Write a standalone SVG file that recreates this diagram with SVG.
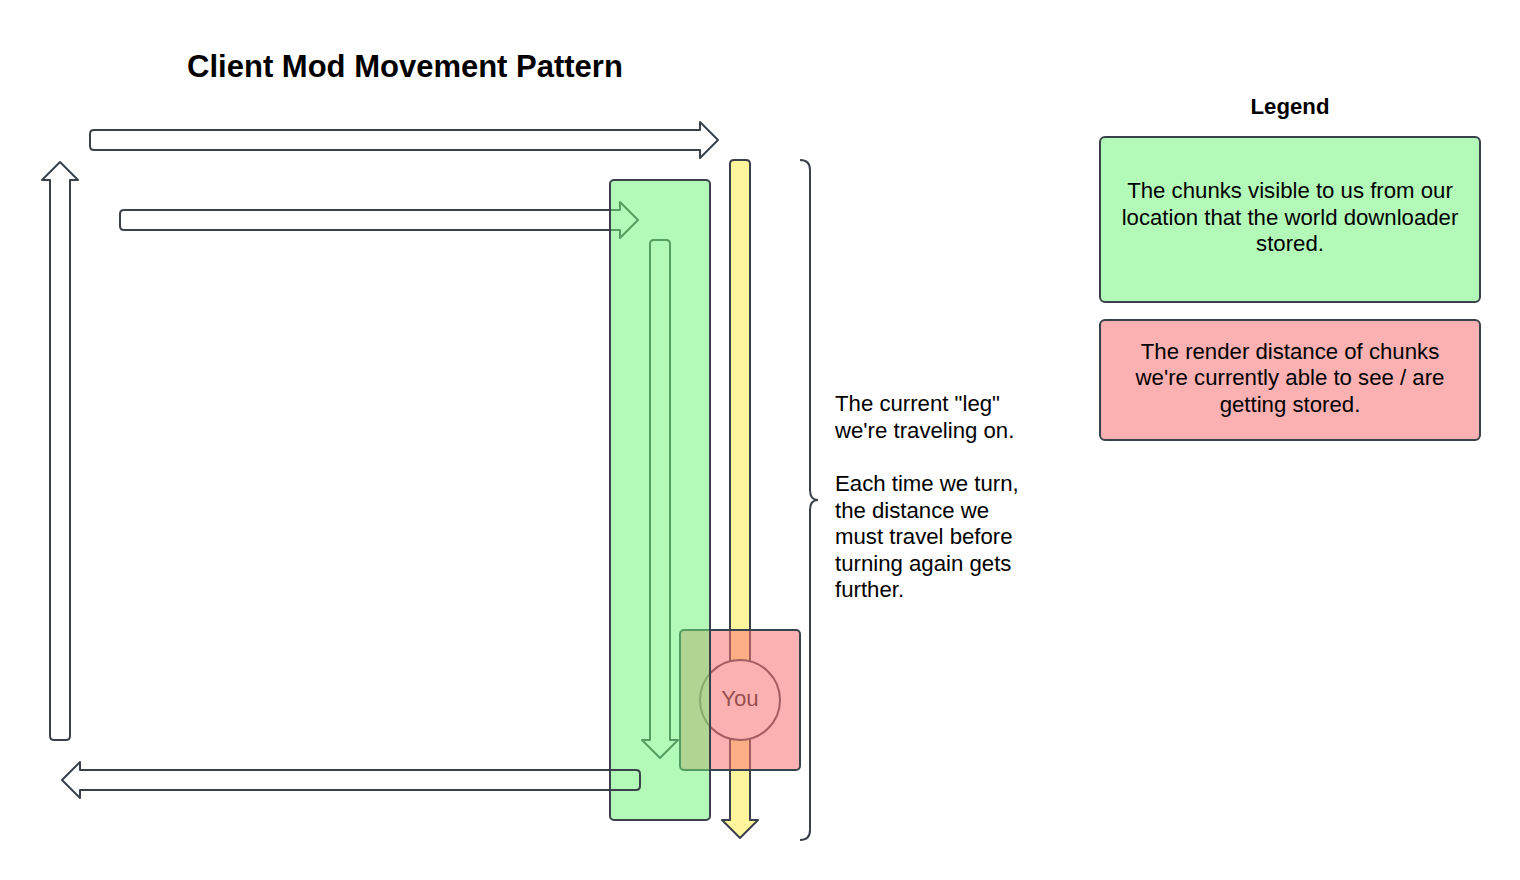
<svg xmlns="http://www.w3.org/2000/svg" width="1520" height="880" viewBox="0 0 1520 880">
<style>
text{font-family:"Liberation Sans",Arial,sans-serif;fill:#000}
.t{font-size:22.2px}
.c{text-anchor:middle}
.b{font-weight:bold}
.arr{fill:#fff;stroke:#3a414a;stroke-width:2;stroke-linejoin:round}
.ln{fill:none;stroke:#3a414a;stroke-width:2}
</style>
<rect width="1520" height="880" fill="#fff"/>
<g id="title"><text x="405" y="77" class="c b" style="font-size:31px">Client Mod Movement Pattern</text></g>
<g id="legend">
<text x="1290" y="114" class="t c b">Legend</text>
<g id="legend-green">
<rect x="1100" y="137" width="380" height="165" rx="5" fill="#b3fab9" stroke="#3a414a" stroke-width="2"/>
<text x="1290" y="198" class="t c">The chunks visible to us from our</text>
<text x="1290" y="225" class="t c">location that the world downloader</text>
<text x="1290" y="251" class="t c">stored.</text>
</g>
<g id="legend-red">
<rect x="1100" y="320" width="380" height="120" rx="5" fill="#fbb1b1" stroke="#3a414a" stroke-width="2"/>
<text x="1290" y="359" class="t c">The render distance of chunks</text>
<text x="1290" y="385" class="t c">we're currently able to see / are</text>
<text x="1290" y="412" class="t c">getting stored.</text>
</g>
</g>
<g id="connectors">
<path id="arrow-top" class="arr" d="M94,130 L700,130 L700,122 L718,140 L700,158 L700,150 L94,150 Q90,150 90,146 L90,134 Q90,130 94,130 Z"/>
<path id="arrow-left" class="arr" d="M50,736 L50,180 L42,180 L60,162 L78,180 L70,180 L70,736 Q70,740 66,740 L54,740 Q50,740 50,736 Z"/>
<path id="arrow-second" class="arr" d="M124,210 L620,210 L620,202 L638,220 L620,238 L620,230 L124,230 Q120,230 120,226 L120,214 Q120,210 124,210 Z"/>
<path id="arrow-inner" class="arr" d="M650,244 Q650,240 654,240 L666,240 Q670,240 670,244 L670,740 L678,740 L660,758 L642,740 L650,740 Z"/>
<path id="arrow-yellow" class="arr" style="fill:#fff59d" d="M730,164 Q730,160 734,160 L746,160 Q750,160 750,164 L750,820 L758,820 L740,838 L722,820 L730,820 Z"/>
</g>
<g id="you">
<circle cx="740" cy="700" r="40" fill="#fff" stroke="#3a414a" stroke-width="2"/>
<text x="740" y="706" class="t c" style="fill:#1a1a1a">You</text>
</g>
<g id="render-distance">
<rect x="680" y="630" width="120" height="140" rx="4" fill="#f87373" fill-opacity="0.557" stroke="#3a414a" stroke-width="2"/>
</g>
<g id="stored-chunks">
<rect x="610" y="180" width="100" height="640" rx="4" fill="#6bf577" fill-opacity="0.513" stroke="#3a414a" stroke-width="2"/>
</g>
<g id="arrow-bottom-group">
<path id="arrow-bottom" class="arr" style="fill:none" d="M636,770 Q640,770 640,774 L640,786 Q640,790 636,790 L80,790 L80,798 L62,780 L80,762 L80,770 Z"/>
</g>
<g id="brace">
<path class="ln" d="M800,160 Q810,160 810,170 L810,490 Q810,500 818,500 Q810,500 810,510 L810,830 Q810,840 800,840"/>
</g>
<g id="note">
<text x="835" y="411" class="t">The current "leg"</text>
<text x="835" y="438" class="t">we're traveling on.</text>
<text x="835" y="491" class="t">Each time we turn,</text>
<text x="835" y="518" class="t">the distance we</text>
<text x="835" y="544" class="t">must travel before</text>
<text x="835" y="571" class="t">turning again gets</text>
<text x="835" y="597" class="t">further.</text>
</g>
</svg>
